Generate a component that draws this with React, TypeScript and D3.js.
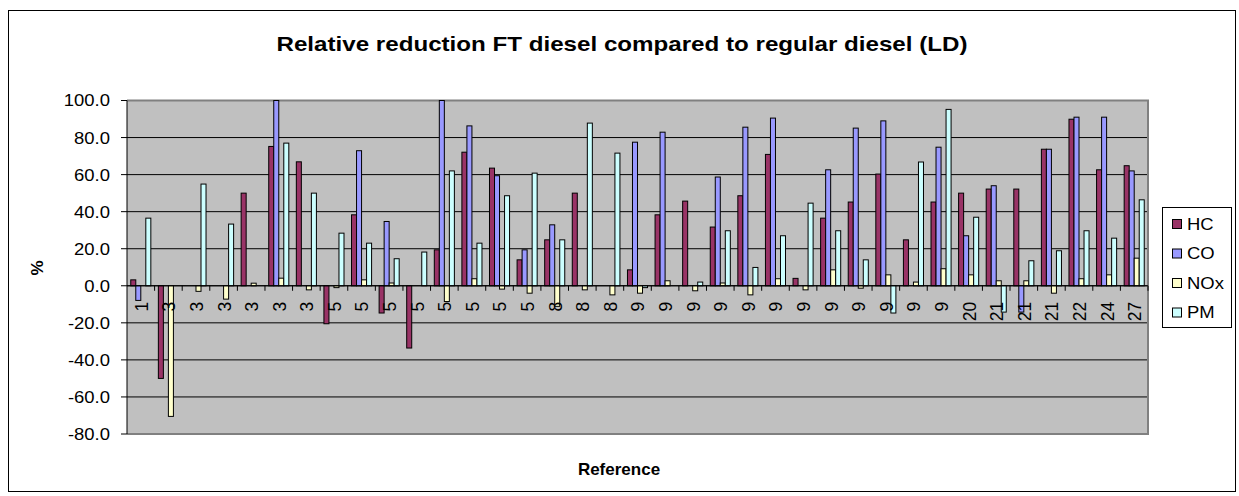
import React from 'react';
import * as d3 from 'd3';

const categories = ['1', '3', '3', '3', '3', '3', '3', '5', '5', '5', '5', '5', '5', '5', '5', '8', '8', '8', '9', '9', '9', '9', '9', '9', '9', '9', '9', '9', '9', '9', '20', '21', '21', '21', '22', '24', '27'];
const hc = [3.2, -50, 0, 0, 50, 75.2, 66.9, -20.5, 38.3, -14.7, -33.6, 19.4, 72.1, 63.5, 14, 24.8, 50, 0, 8.6, 38.3, 45.7, 31.7, 48.6, 70.9, 4, 36.5, 45.2, 60.3, 24.8, 45.2, 50, 52.2, 52.2, 73.7, 89.9, 62.6, 64.8];
const co = [-7.9, 0, 0, 0, 0, 100, 0, 0, 72.9, 34.7, 0, 100, 86.3, 59.4, 19.4, 32.9, 0, 0, 77.5, 82.9, 0, 58.7, 85.6, 90.5, 0, 62.6, 85.1, 89, 0, 74.8, 27, 54, -14.2, 73.7, 91, 91, 62];
const nox = [0, -70.5, -3, -7.2, 1.4, 4.1, -2.2, -1, 3.2, 1.5, 0, -8.5, 3.8, -1.8, -4, -11.1, -2.2, -4.9, -4, 2.7, -2.7, 1.5, -4.9, 3.8, -2.2, 8.6, -1.3, 5.9, 2, 9.2, 5.9, 2.7, 2.7, -4, 3.8, 5.9, 14.9];
const pm = [36.5, 0, 54.9, 33.3, 0, 77, 50, 28.4, 23, 14.6, 18.2, 62, 23, 48.6, 60.8, 24.8, 87.8, 71.6, -1, 0, 2, 29.7, 9.9, 27, 44.6, 29.7, 14, -14.7, 66.8, 95.2, 37, -14.2, 13.5, 18.9, 29.7, 25.7, 46.4];
const seriesNames = ['HC', 'CO', 'NOx', 'PM'];
const seriesColors = ['#993366', '#9999FF', '#FFFFCC', '#CCFFFF'];
const yTicks = [-80, -60, -40, -20, 0, 20, 40, 60, 80, 100];

const W = 1239;
const H = 496;
const font = '"Liberation Sans", Arial, sans-serif';
const fmt = (v: number) => d3.format('.1f')(v).replace('\u2212', '-');

export default function App() {
  const series = [hc, co, nox, pm];
  const plot = { left: 127, right: 1148, top: 100.5, bottom: 434 };

  const x0 = d3.scaleBand<number>()
    .domain(categories.map((_, i) => i))
    .range([plot.left, plot.right])
    .padding(0);
  const x1 = d3.scaleBand<string>()
    .domain(seriesNames)
    .range([0, x0.bandwidth()])
    .paddingInner(0)
    .paddingOuter(0.75);
  const y = d3.scaleLinear().domain([-80, 100]).range([plot.bottom, plot.top]);
  const y0 = y(0);

  return (
    <svg width={W} height={H} style={{ position: 'absolute', left: 0, top: 0, background: '#fff' }} fontFamily={font}>
      <rect x={8.5} y={10.5} width={1227} height={481} fill="#fff" stroke="#000" />

      <text x={622} y={51} textAnchor="middle" fontWeight="bold" fontSize={21} textLength={691} lengthAdjust="spacingAndGlyphs">
        Relative reduction FT diesel compared to regular diesel (LD)
      </text>

      {/* plot area */}
      <rect x={plot.left} y={plot.top} width={plot.right - plot.left} height={plot.bottom - plot.top} fill="#C0C0C0" />
      {yTicks.filter((t) => t !== -80 && t !== 100).map((t) => (
        <line key={'g' + t} x1={plot.left} x2={plot.right} y1={y(t)} y2={y(t)} stroke="#000" strokeWidth={1} />
      ))}
      <path d={`M${plot.left},${plot.top}H${plot.right}V${plot.bottom}H${plot.left}`} fill="none" stroke="#808080" strokeWidth={2} />

      {/* bars */}
      {series.map((vals, s) => (
        <g key={seriesNames[s]} fill={seriesColors[s]} stroke="#000" strokeWidth={1}>
          {vals.map((v, i) => v === 0 ? null : (
            <rect
              key={i}
              x={(x0(i) as number) + (x1(seriesNames[s]) as number)}
              y={Math.min(y(v), y0)}
              width={x1.bandwidth()}
              height={Math.abs(y(v) - y0)}
            />
          ))}
        </g>
      ))}

      {/* y axis */}
      <line x1={plot.left} x2={plot.left} y1={plot.top} y2={plot.bottom} stroke="#000" />
      {yTicks.map((t) => (
        <g key={'t' + t}>
          <line x1={plot.left - 6} x2={plot.left} y1={y(t)} y2={y(t)} stroke="#000" />
          <text transform={`translate(110,${y(t)}) scale(1.12,1)`} dy="0.36em" textAnchor="end" fontSize={16.5}>{fmt(t)}</text>
        </g>
      ))}

      {/* x axis at zero */}
      <line x1={plot.left} x2={plot.right} y1={y0} y2={y0} stroke="#000" />
      {categories.map((_, i) => (
        <line key={'xt' + i} x1={(x0(i) as number) + x0.bandwidth()} x2={(x0(i) as number) + x0.bandwidth()} y1={y0} y2={y0 + 5} stroke="#000" />
      ))}
      {categories.map((c, i) => {
        const cx = (x0(i) as number) + x0.bandwidth() / 2;
        return (
          <text key={'xl' + i} transform={`translate(${cx},${y0 + 16}) scale(1.1,1) rotate(-90)`} textAnchor="end" dy="0.36em" fontSize={17.5}>
            {c}
          </text>
        );
      })}

      <text transform="translate(43,268) rotate(-90)" textAnchor="middle" fontWeight="bold" fontSize={17}>%</text>
      <text x={619} y={475} textAnchor="middle" fontWeight="bold" fontSize={17}>Reference</text>

      {/* legend */}
      <rect x={1162.5} y={207.5} width={69} height={120} fill="#fff" stroke="#000" />
      {seriesNames.map((n, i) => (
        <g key={'l' + n} transform={`translate(1172,${224 + i * 29.5})`}>
          <rect x={0.5} y={-4.5} width={9} height={9} fill={seriesColors[i]} stroke="#000" />
          <text transform="translate(15,0) scale(1.12,1)" dy="0.36em" fontSize={16.5}>{n}</text>
        </g>
      ))}
    </svg>
  );
}
